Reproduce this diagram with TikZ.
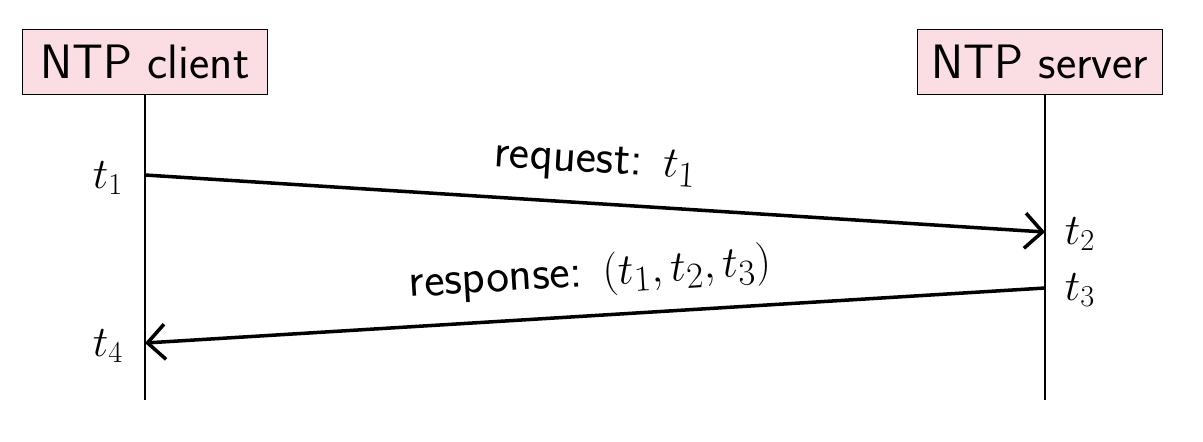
\documentclass[tikz,border=0pt]{standalone}
\usetikzlibrary{arrows.meta}
\definecolor{boxpink}{RGB}{251,222,228}
\begin{document}
\begin{tikzpicture}[x=0.02cm,y=-0.02cm,
  box/.style={draw,fill=boxpink,line width=0.6pt,minimum width=245*0.02cm,minimum height=65*0.02cm,inner sep=0pt,font=\sffamily\fontsize{27.5}{32}\selectfont},
  life/.style={line width=0.6pt},
  msg/.style={line width=2pt,-{Straight Barb[length=10pt,width=20pt,line width=2pt]}},
  tlab/.style={font=\fontsize{27}{32}\selectfont},
  mlab/.style={font=\sffamily\fontsize{27.5}{32}\selectfont}]
\useasboundingbox (0,0) rectangle (1203,441);
\node[box] (c) at (145,62) {NTP client};
\node[box] (s) at (1040,62) {NTP server};
\coordinate (ce) at (145,400);
\coordinate (se) at (1045,400);
\draw[life] (c.south) -- (ce);
\draw[life] (s.south -| se) -- (se);
\coordinate (a1) at (145,175);
\coordinate (a2) at (1045,232);
\coordinate (b1) at (1045,288);
\coordinate (b2) at (145,343);
\draw[msg] (a1) -- (a2);
\draw[msg] (b1) -- (b2);
\node[tlab] (t1) at (108,178) {$t_1$};
\node[tlab] (t2) at (1080,234) {$t_2$};
\node[tlab] (t3) at (1080,290) {$t_3$};
\node[tlab] (t4) at (108,346) {$t_4$};
\node[mlab,rotate=-3.6] (l1) at (595,164) {request: $t_1$};
\node[mlab,rotate=3.5] (l2) at (590,275) {response: $(t_1,t_2,t_3)$};
\end{tikzpicture}
\end{document}
